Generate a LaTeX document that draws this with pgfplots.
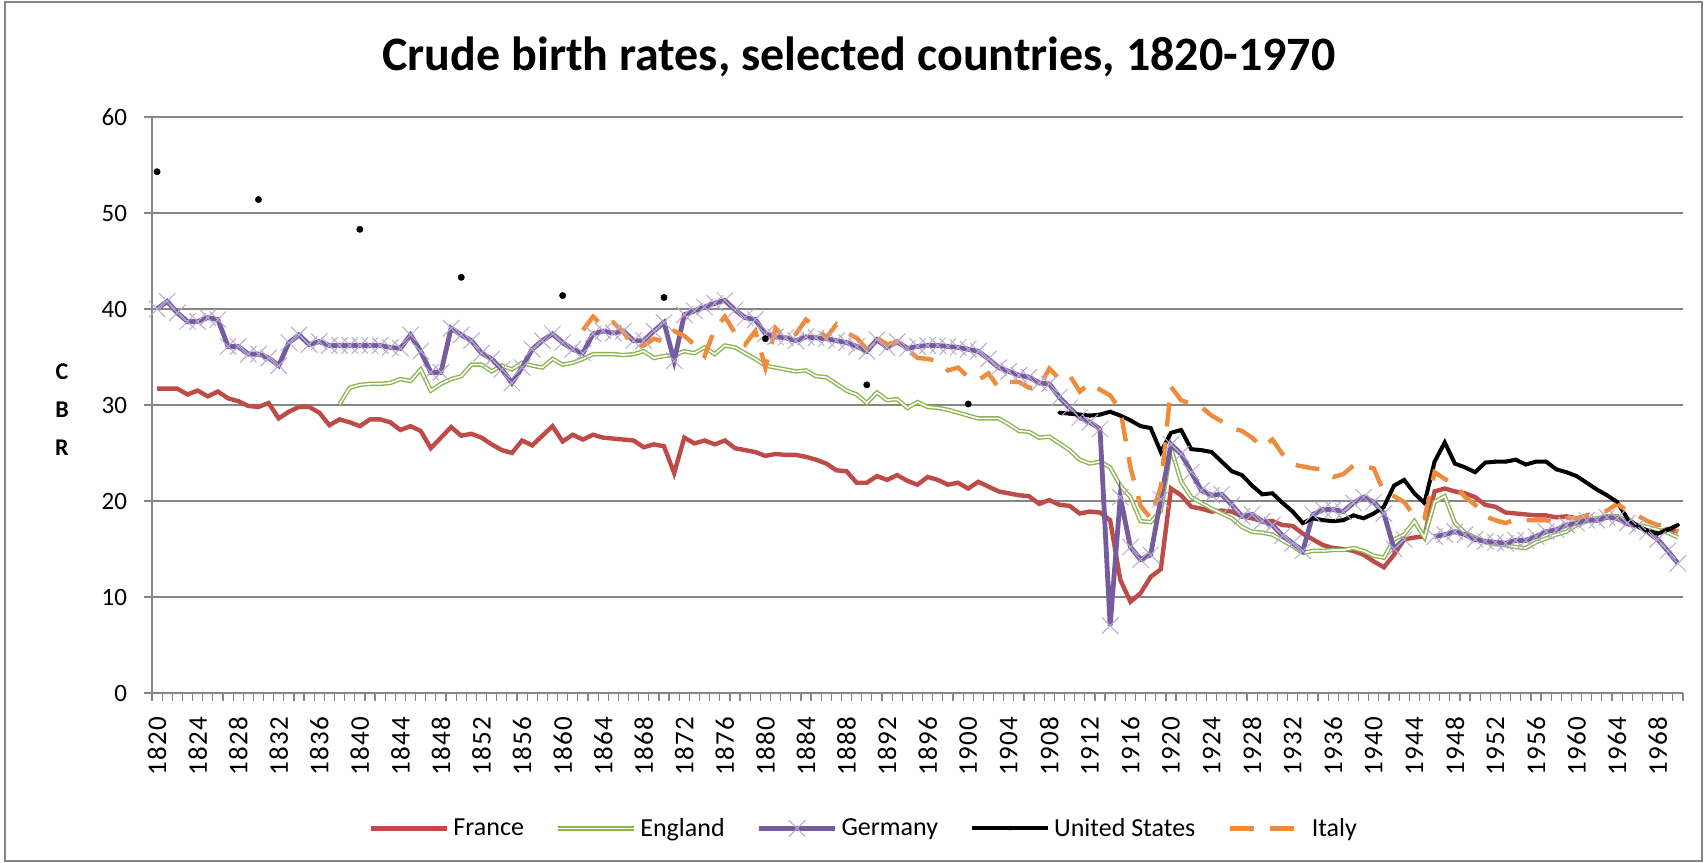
\documentclass[border=0pt]{standalone}
\usepackage{pgfplots}
\pgfplotsset{compat=1.18}
\usepackage{pgfplotstable}
\usepackage{fontspec}
\setmainfont{Carlito}
\definecolor{frc}{RGB}{190,75,72}
\definecolor{enc}{RGB}{140,180,80}
\definecolor{dec}{RGB}{118,92,158}
\definecolor{dem}{RGB}{185,170,210}
\definecolor{itc}{RGB}{238,140,60}
\definecolor{gridc}{RGB}{134,134,134}

\pgfplotstableread{
year France England Germany US Italy
1820 31.7 nan 40.0 54.3 nan
1821 31.7 nan 40.8 nan nan
1822 31.7 nan 39.6 nan nan
1823 31.1 nan 38.7 nan nan
1824 31.5 nan 38.7 nan nan
1825 30.9 nan 39.1 nan nan
1826 31.4 nan 38.9 nan nan
1827 30.7 nan 36.1 nan nan
1828 30.4 nan 36.1 nan nan
1829 29.9 nan 35.3 nan nan
1830 29.8 nan 35.3 51.4 nan
1831 30.2 nan 34.9 nan nan
1832 28.6 nan 34.1 nan nan
1833 29.3 nan 36.5 nan nan
1834 29.8 nan 37.3 nan nan
1835 29.8 nan 36.3 nan nan
1836 29.2 nan 36.6 nan nan
1837 27.9 nan 36.2 nan nan
1838 28.5 30.1 36.2 nan nan
1839 28.2 31.8 36.2 nan nan
1840 27.8 32.1 36.2 48.3 nan
1841 28.5 32.2 36.2 nan nan
1842 28.5 32.2 36.2 nan nan
1843 28.2 32.3 36.0 nan nan
1844 27.4 32.7 35.9 nan nan
1845 27.8 32.5 37.3 nan nan
1846 27.3 33.7 35.6 nan nan
1847 25.5 31.5 33.4 nan nan
1848 26.6 32.2 33.4 nan nan
1849 27.7 32.7 38.0 nan nan
1850 26.8 33.0 37.3 43.3 nan
1851 27.0 34.2 36.7 nan nan
1852 26.6 34.2 35.4 nan nan
1853 25.9 33.5 34.8 nan nan
1854 25.3 34.1 33.7 nan nan
1855 25.0 33.7 32.3 nan nan
1856 26.3 34.4 33.9 nan nan
1857 25.8 34.1 35.8 nan nan
1858 26.8 33.9 36.7 nan nan
1859 27.8 34.8 37.4 nan nan
1860 26.2 34.2 36.5 41.4 nan
1861 26.9 34.4 35.8 nan nan
1862 26.4 34.8 35.4 nan 37.8
1863 26.9 35.3 37.4 nan 39.2
1864 26.6 35.3 37.7 nan 38.2
1865 26.5 35.3 37.5 nan 38.6
1866 26.4 35.2 37.7 nan 37.6
1867 26.3 35.3 36.7 nan 36.0
1868 25.6 35.6 36.7 nan 36.2
1869 25.9 34.9 37.7 nan 36.9
1870 25.7 35.1 38.6 41.2 36.6
1871 22.9 35.2 34.6 nan 37.7
1872 26.6 35.6 39.4 nan 37.2
1873 26.0 35.4 39.8 nan 36.3
1874 26.3 36.0 40.2 nan 35.1
1875 25.9 35.3 40.6 nan 37.9
1876 26.3 36.2 40.9 nan 39.2
1877 25.5 36.0 39.9 nan 37.5
1878 25.3 35.4 39.1 nan 36.3
1879 25.1 34.8 38.9 nan 37.7
1880 24.7 34.1 37.4 36.9 33.9
1881 24.9 33.9 37.1 nan 38.0
1882 24.8 33.7 37.0 nan 36.9
1883 24.8 33.5 36.7 nan 37.4
1884 24.6 33.6 37.1 nan 38.9
1885 24.3 33.0 37.0 nan 38.1
1886 23.9 32.9 36.9 nan 37.0
1887 23.2 32.2 36.7 nan 38.4
1888 23.1 31.5 36.5 nan 37.5
1889 21.9 31.1 36.1 nan 37.0
1890 21.9 30.2 35.6 32.1 35.8
1891 22.6 31.3 36.8 nan 37.0
1892 22.2 30.5 36.0 nan 36.3
1893 22.7 30.6 36.6 nan 36.6
1894 22.1 29.7 35.9 nan 35.8
1895 21.7 30.3 36.1 nan 34.9
1896 22.5 29.8 36.2 nan 34.8
1897 22.2 29.7 36.2 nan 34.6
1898 21.7 29.5 36.1 nan 33.6
1899 21.9 29.2 36.0 nan 33.9
1900 21.3 28.9 35.8 30.1 32.9
1901 22.0 28.6 35.6 nan 32.6
1902 21.5 28.6 34.8 nan 33.3
1903 21.0 28.6 33.9 nan 31.8
1904 20.8 28.0 33.5 nan 32.4
1905 20.6 27.3 33.1 nan 32.4
1906 20.5 27.2 32.9 nan 31.8
1907 19.7 26.6 32.3 nan 31.8
1908 20.1 26.7 32.2 nan 33.8
1909 19.6 26.0 30.8 29.2 32.7
1910 19.5 25.3 29.7 29.1 33.1
1911 18.7 24.3 28.7 29.0 31.4
1912 18.9 23.9 28.2 28.9 32.3
1913 18.8 24.1 27.5 29.0 31.6
1914 18.0 23.5 7.0 29.3 31.0
1915 11.8 21.6 20.4 28.9 29.5
1916 9.5 20.4 15.2 28.4 23.5
1917 10.4 17.9 13.9 27.8 19.5
1918 12.1 17.8 14.4 27.6 18.2
1919 12.9 19.0 20.2 25.1 21.5
1920 21.3 25.5 25.9 27.1 31.9
1921 20.6 22.0 24.9 27.4 30.5
1922 19.4 20.4 23.0 25.4 30.1
1923 19.2 19.8 21.1 25.3 29.8
1924 18.9 19.2 20.6 25.1 28.9
1925 19.0 18.7 20.7 24.1 28.3
1926 18.9 18.2 19.6 23.1 27.6
1927 18.4 17.3 18.4 22.7 27.3
1928 18.2 16.8 18.6 21.6 26.6
1929 17.9 16.7 17.9 20.7 25.6
1930 17.9 16.5 17.5 20.8 26.4
1931 17.5 15.9 16.4 19.8 24.9
1932 17.4 15.3 15.6 18.9 23.8
1933 16.6 14.6 14.8 17.7 23.6
1934 16.0 14.8 18.6 18.2 23.4
1935 15.4 14.8 19.1 18.0 23.3
1936 15.1 14.9 19.1 17.9 22.5
1937 15.0 14.9 18.9 18.0 22.8
1938 14.8 15.1 19.8 18.5 23.7
1939 14.4 14.8 20.4 18.2 23.6
1940 13.7 14.3 19.9 18.7 23.4
1941 13.1 14.1 18.7 19.4 20.9
1942 14.4 16.0 15.0 21.6 20.5
1943 16.0 16.5 16.0 22.2 19.9
1944 16.2 17.9 nan 20.8 18.4
1945 16.3 16.2 nan 19.8 18.2
1946 21.0 19.9 16.3 24.1 23.0
1947 21.3 20.5 16.5 26.1 22.3
1948 21.0 17.7 16.8 23.9 21.8
1949 20.8 16.7 16.5 23.5 20.4
1950 20.4 16.2 16.0 23.0 19.6
1951 19.6 15.7 15.8 24.0 18.4
1952 19.4 15.5 15.7 24.1 18.0
1953 18.8 15.4 15.6 24.1 17.7
1954 18.7 15.2 15.9 24.3 18.1
1955 18.6 15.1 15.9 23.8 18.0
1956 18.5 15.7 16.3 24.1 18.0
1957 18.5 16.1 16.8 24.1 18.0
1958 18.3 16.5 17.0 23.3 17.8
1959 18.4 16.8 17.5 23.0 18.2
1960 18.2 17.5 17.7 22.6 18.2
1961 18.1 17.9 18.0 21.9 18.5
1962 18.0 18.2 18.0 21.2 18.5
1963 18.3 18.4 18.3 20.6 19.0
1964 18.2 18.4 18.2 19.9 19.7
1965 17.6 17.9 17.7 18.2 19.0
1966 17.4 17.5 17.4 17.4 18.5
1967 16.9 17.3 16.8 16.9 17.9
1968 16.7 17.0 16.0 16.6 17.5
1969 17.1 16.7 14.8 17.0 17.5
1970 16.8 16.2 13.5 17.5 16.8
}\data

\begin{document}
\begin{tikzpicture}
\useasboundingbox (0,0) rectangle (852.5pt,431.5pt);
\draw[gridc, line width=0.8pt] (2.5pt,1pt) rectangle (851pt,430.5pt);
\begin{axis}[
  at={(76pt,85pt)}, anchor=south west,
  scale only axis, width=765.5pt, height=288pt,
  xmin=1819.5, xmax=1970.5, ymin=0, ymax=60,
  axis lines*=left,
  axis line style={gridc, line width=0.8pt},
  unbounded coords=jump,
  ytick={0,10,...,60},
  ymajorgrids, grid style={gridc, line width=0.7pt},
  tick align=outside,
  major tick length=4pt,
  minor tick length=4pt,
  tick style={gridc, line width=0.6pt},
  xtick={1820,1824,...,1968},
  major x tick style={draw=none},
  minor xtick={1819.5,1820.5,...,1970.5},
  minor x tick style={draw=gridc, line width=0.6pt},
  xticklabel style={rotate=90, anchor=east, font=\fontsize{13.5}{13.5}\selectfont\addfontfeatures{LetterSpace=5}, xshift=-4.5pt},
  yticklabel style={font=\fontsize{12.5}{12.5}\selectfont, xshift=-5pt},
  /pgf/number format/assume math mode=true,
  /pgf/number format/1000 sep={},
  legend columns=5,
  legend style={at={(axis description cs:0.4657,-0.2352)}, anchor=center, draw=none,
    font=\fontsize{13}{13}\selectfont,
    /tikz/every even column/.append style={column sep=14pt}},
  legend image code/.code={\draw[mark repeat=2,mark phase=2] plot coordinates {(0pt,0pt) (19pt,0pt) (38pt,0pt)};},
]
\addplot[frc, line width=2.2pt, no markers] table[x=year,y=France] {\data};
\addlegendentry{France}
\addplot[enc, line width=0.7pt, double=white, double distance=0.8pt, no markers] table[x=year,y=England] {\data};
\addlegendentry{England}
\addplot[dec, line width=2.4pt, mark=x, mark size=5.8pt, mark options={draw=dem, line width=0.5pt}] table[x=year,y=Germany] {\data};
\addlegendentry{Germany}
\addplot[black, line width=2pt, mark=*, mark size=0.9pt, mark options={line width=0.2pt}] table[x=year,y=US] {\data};
\addlegendentry{United States}
\addplot[black, only marks, mark=*, mark size=1.6pt, mark options={line width=0.2pt}, forget plot, restrict x to domain=1819:1901] table[x=year,y=US] {\data};
\addplot[itc, line width=2.2pt, dash pattern=on 12pt off 8pt, no markers] table[x=year,y=Italy] {\data};
\addlegendentry{Italy}
\end{axis}
\node[font=\bfseries\fontsize{24}{24}\selectfont] at (429.5pt,403pt) {Crude birth rates, selected countries, 1820-1970};
\node[font=\bfseries\fontsize{12}{19}\selectfont, align=center] at (31pt,226.5pt) {C\\B\\R};
\end{tikzpicture}
\end{document}
